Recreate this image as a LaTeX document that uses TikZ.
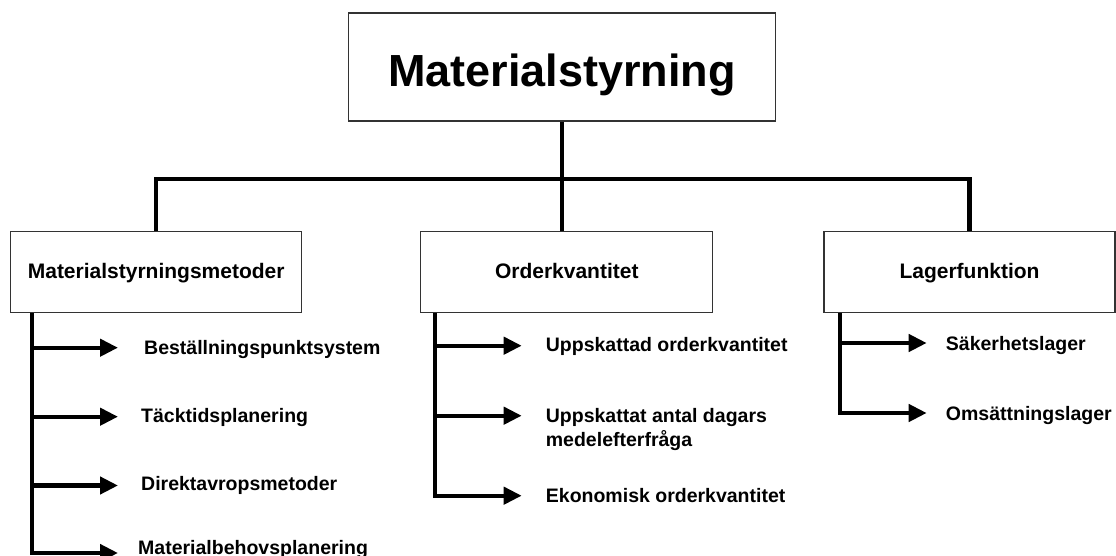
\documentclass[tikz,border=0pt]{standalone}
\usepackage{fontspec}
\setmainfont{Liberation Sans}
\usetikzlibrary{arrows.meta}
\begin{document}
\begin{tikzpicture}[x=1pt,y=-1pt,
  box/.style={draw=black!80, line width=1.3pt, fill=white, inner sep=0pt},
  head/.style={font=\bfseries\fontsize{21}{26}\selectfont, text height=15.1pt, text depth=3pt},
  conn/.style={line width=4.3pt},
  arr/.style={line width=4.3pt, -{Triangle[length=18pt,width=17pt]}},
  item/.style={font=\bfseries\fontsize{19.5}{24}\selectfont, anchor=west, inner sep=0pt, text height=14pt, text depth=0pt}]
\useasboundingbox (0,0) rectangle (1116,556);

% main boxes
\node[box, minimum width=427pt, minimum height=108pt, font=\bfseries\fontsize{45}{54}\selectfont, text height=38.2pt, text depth=0pt] (top) at (562,67) {Materialstyrning};
\node[box, head, minimum width=291pt, minimum height=81pt] (lb) at (156.2,272.2) {Materialstyrningsmetoder};
\node[box, head, minimum width=292pt, minimum height=81pt] (mb) at (566.8,272.2) {Orderkvantitet};
\node[box, head, minimum width=291pt, minimum height=81pt] (rb) at (969.5,272.2) {Lagerfunktion};

% bus
\coordinate (bus) at (562,179);
\draw[conn] (top.south) -- (top.south |- mb.north);
\draw[conn] (lb.north) |- (bus) -| (rb.north);

% left branch
\coordinate (lv) at (32,0);
\coordinate (l1) at (118,347.7);
\coordinate (l2) at (118,416.7);
\coordinate (l3) at (118,485.5);
\coordinate (l4) at (118,553);
\draw[arr] (lv |- lb.south) |- (l4);
\draw[arr] (lv |- l1) -- (l1);
\draw[arr] (lv |- l2) -- (l2);
\draw[arr] (lv |- l3) -- (l3);
\node[item] (b1) at (144,347.5) {Beställningspunktsystem};
\node[item] (b2) at (141,415.5) {Täcktidsplanering};
\node[item] (b3) at (141,483) {Direktavropsmetoder};
\node[item] (b4) at (138,547.5) {Materialbehovsplanering};

% middle branch
\coordinate (mv) at (435,0);
\coordinate (m1) at (521.7,345.7);
\coordinate (m2) at (521.7,415.7);
\coordinate (m3) at (521.7,495.7);
\draw[arr] (mv |- mb.south) |- (m3);
\draw[arr] (mv |- m1) -- (m1);
\draw[arr] (mv |- m2) -- (m2);
\node[item] (o1) at (545.7,344.5) {Uppskattad orderkvantitet};
\node[item] (o2) at (545.7,415) {\begin{tabular}[t]{@{}l@{}}Uppskattat antal dagars\\medelefterfråga\end{tabular}};
\node[item] (o3) at (545.7,495) {Ekonomisk orderkvantitet};

% right branch
\coordinate (rv) at (840,0);
\coordinate (r1) at (926.7,343);
\coordinate (r2) at (926.7,413);
\draw[arr] (rv |- rb.south) |- (r2);
\draw[arr] (rv |- r1) -- (r1);
\node[item] (s1) at (945.7,343) {Säkerhetslager};
\node[item] (s2) at (945.7,413) {Omsättningslager};
\end{tikzpicture}
\end{document}
